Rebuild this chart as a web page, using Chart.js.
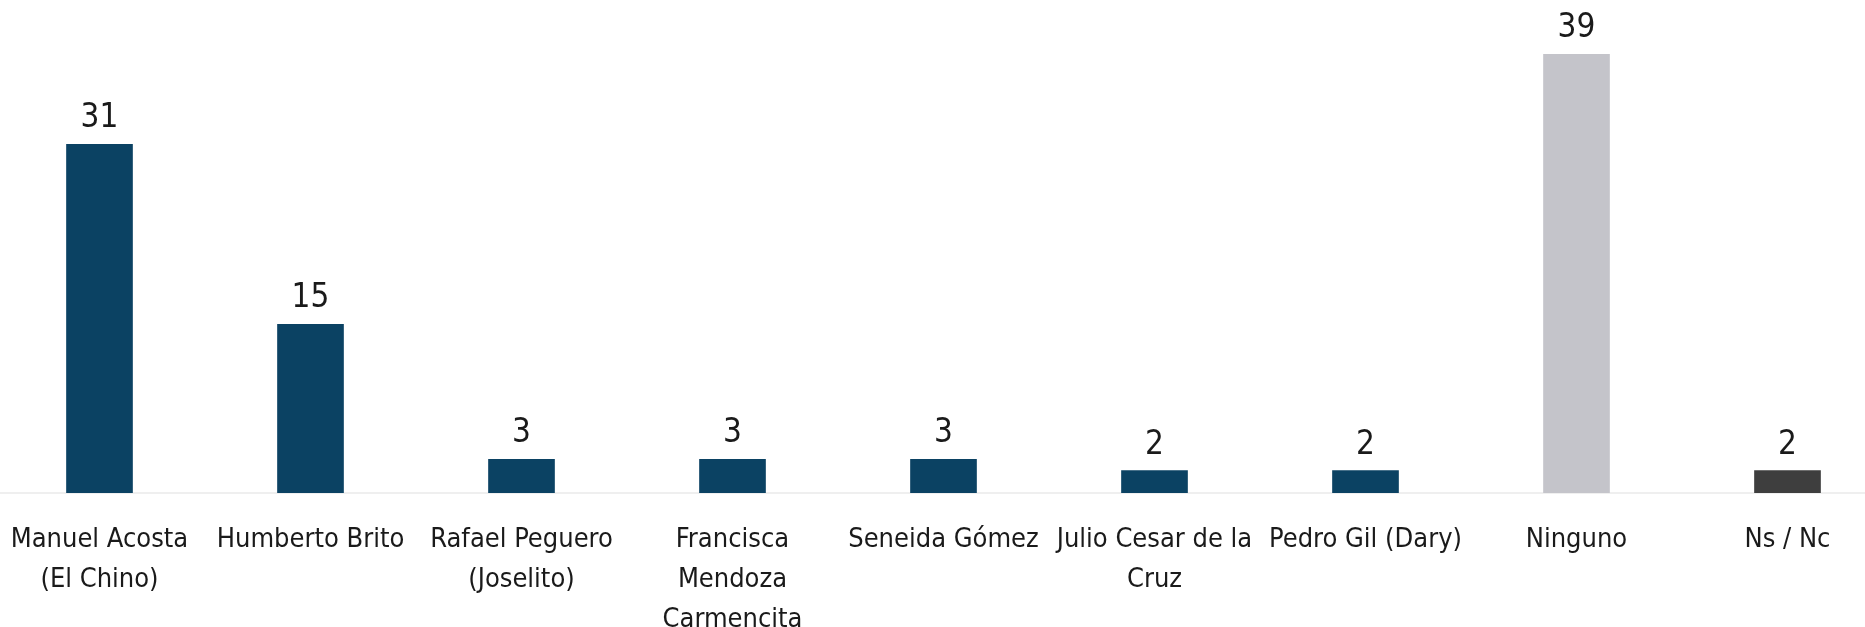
<!DOCTYPE html>
<html>
<head>
<meta charset="utf-8">
<script src="https://cdn.jsdelivr.net/npm/chart.js@4"></script>
<style>
  html, body { margin: 0; padding: 0; background: #fff; overflow: hidden; }
  #wrap { position: absolute; left: -6px; top: 0; width: 1899px; height: 627px; }
</style>
</head>
<body>
<div id="wrap"><canvas id="barChart"></canvas></div>
<script>
// categorias y valores
var candidatos = [
  ['Manuel Acosta', '(El Chino)'],
  'Humberto Brito',
  ['Rafael Peguero', '(Joselito)'],
  ['Francisca', 'Mendoza', 'Carmencita'],
  'Seneida Gómez',
  ['Julio Cesar de la', 'Cruz'],
  'Pedro Gil (Dary)',
  'Ninguno',
  'Ns / Nc'
];
var valores = [31, 15, 3, 3, 3, 2, 2, 39, 2];
var colores = ['#0b4263', '#0b4263', '#0b4263', '#0b4263', '#0b4263', '#0b4263', '#0b4263', '#c4c4ca', '#3e3e3e'];

var fuente = "'Liberation Sans Narrow', 'DejaVu Sans Condensed', 'Roboto', sans-serif";

// dibuja el numero encima de cada barra
var etiquetas = {
  id: 'etiquetas',
  afterDatasetsDraw: function(chart) {
    var ctx = chart.ctx;
    var meta = chart.getDatasetMeta(0);
    ctx.save();
    ctx.font = '33px ' + fuente;
    ctx.fillStyle = '#1a1a1a';
    ctx.textAlign = 'center';
    ctx.textBaseline = 'alphabetic';
    meta.data.forEach(function(bar, i) {
      ctx.fillText(valores[i], bar.x, bar.y - 17);
    });
    ctx.restore();
  }
};

var ctx = document.getElementById('barChart').getContext('2d');
var myChart = new Chart(ctx, {
  type: 'bar',
  data: {
    labels: candidatos,
    datasets: [{
      data: valores,
      backgroundColor: colores,
      barThickness: 66
    }]
  },
  options: {
    responsive: true,
    maintainAspectRatio: false,
    animation: false,
    layout: { padding: { top: 43, left: 0, right: 0, bottom: 0 } },
    plugins: { legend: { display: false }, tooltip: { enabled: false } },
    scales: {
      x: {
        grid: { display: false, drawTicks: false },
        border: { display: true, color: '#efefef', width: 2 },
        ticks: {
          color: '#1a1a1a',
          font: { family: fuente, size: 27, lineHeight: 1.48 },
          padding: 27,
          autoSkip: false,
          maxRotation: 0
        },
        afterFit: function(scale) {
          scale.height = 134;
          // sin margen lateral extra para las etiquetas
          scale.paddingLeft = 0;
          scale.paddingRight = 0;
        }
      },
      y: {
        display: false,
        min: 0,
        max: 40
      }
    }
  },
  plugins: [etiquetas]
});
</script>
</body>
</html>
